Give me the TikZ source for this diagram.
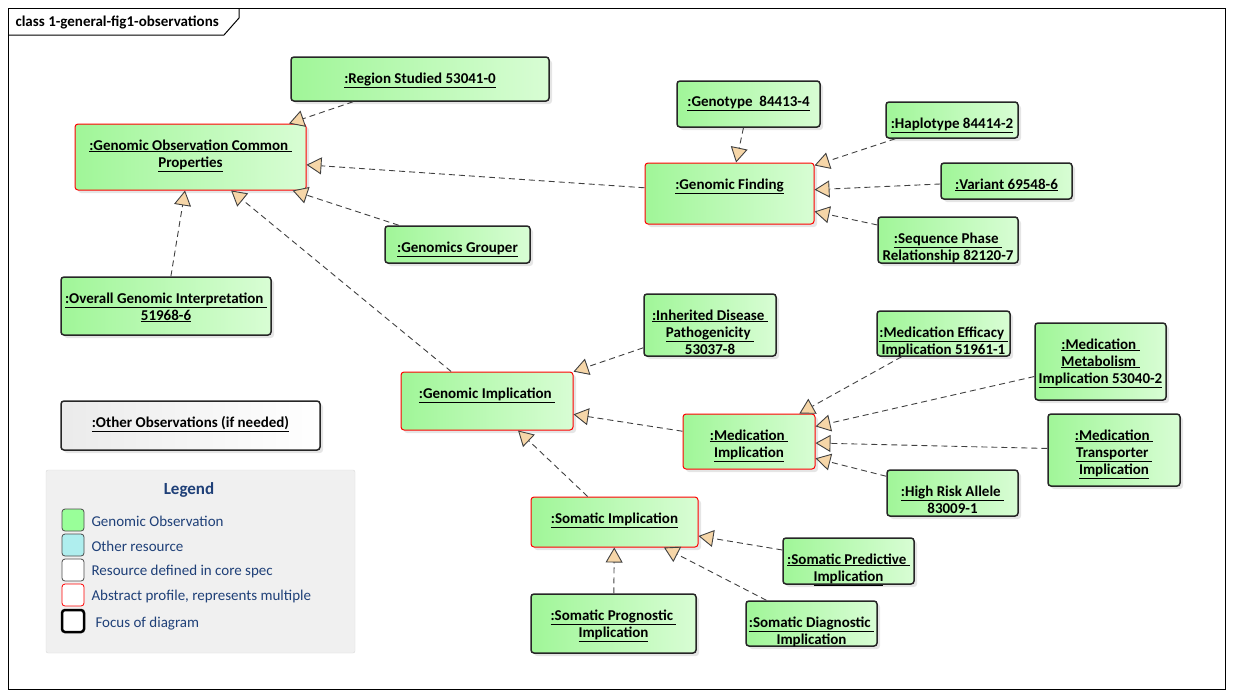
\documentclass[tikz,border=0pt]{standalone}
\usepackage{fontspec}
\setmainfont{Carlito}
\usetikzlibrary{arrows.meta, shadows}
\definecolor{obsL}{RGB}{160,246,152}
\definecolor{obsR}{RGB}{216,253,212}
\definecolor{tipc}{RGB}{246,214,168}
\definecolor{lgnd}{RGB}{31,64,120}
\definecolor{lgbg}{RGB}{240,240,240}
\definecolor{othc}{RGB}{175,238,238}
\newcommand{\bx}[3]{\parbox[t][#2][t]{#1}{\centering\vspace*{15.5pt}#3}}
\newcommand{\un}[1]{\underline{#1}}

\begin{document}
\begin{tikzpicture}[x=1pt, y=-1pt,
  obs/.style={draw=black!85, line width=1.5pt, rounded corners=3pt, left color=obsL, right color=obsR, inner sep=0pt,
    font=\bfseries\fontsize{15}{17}\selectfont, drop shadow={shadow xshift=3pt, shadow yshift=-3pt, fill=black!20}},
  abst/.style={obs, draw=red, line width=1pt},
  gen/.style={draw=black!75, line width=0.9pt, dash pattern=on 6pt off 4pt, -{Triangle[length=15pt, width=17pt, fill=tipc]}},
  lgsq/.style={draw=black!70, line width=0.8pt, rounded corners=3pt, minimum size=22pt, inner sep=0pt},
  lgtxt/.style={anchor=west, text=lgnd, font=\fontsize{15}{17}\selectfont}]
\useasboundingbox (0,0) rectangle (1233,697);

% frame
\draw[line width=1pt] (8,8) rectangle (1225,689);
\draw[line width=1pt] (8,35) -- (224,35) -- (239,18) -- (239,8);
\node[anchor=west, font=\bfseries\fontsize{15}{17}\selectfont] (title) at (12,22) {class 1-general-fig1-observations};

% observations
\node[obs] (region) at (420,79) {\bx{258pt}{44pt}{\un{:Region Studied 53041-0}}};
\node[abst] (gocp) at (190.5,157) {\bx{231pt}{66pt}{\un{:Genomic Observation Common }\\\un{Properties}}};
\node[obs] (grouper) at (457.5,244.5) {\bx{145pt}{37pt}{\un{:Genomics Grouper}}};
\node[obs] (overall) at (166,306) {\bx{210pt}{58pt}{\un{:Overall Genomic Interpretation }\\\un{51968-6}}};

\node[obs] (genotype) at (748.5,104) {\bx{143pt}{46pt}{\un{:Genotype\ \ 84413-4}}};
\node[obs] (haplotype) at (952,120) {\bx{132pt}{36pt}{\un{:Haplotype 84414-2}}};
\node[abst] (finding) at (729.5,193.5) {\bx{169pt}{61pt}{\un{:Genomic Finding}}};
\node[obs] (variant) at (1006.5,181) {\bx{131pt}{36pt}{\un{:Variant 69548-6}}};
\node[obs] (phase) at (948,240) {\bx{140pt}{46pt}{\un{:Sequence Phase }\\Relationship 82120-7}};

\node[obs] (inherited) at (710,325) {\bx{132pt}{62pt}{\un{:Inherited Disease }\\\un{Pathogenicity }\\53037-8}};
\node[abst] (genimpl) at (487,401) {\bx{172pt}{58pt}{\un{:Genomic Implication }}};
\node[obs] (efficacy) at (943.5,333.5) {\bx{133pt}{45pt}{\un{:Medication Efficacy }\\Implication 51961-1}};
\node[obs] (metabolism) at (1100.5,361.5) {\bx{131pt}{77pt}{\un{:Medication }\\\un{Metabolism }\\\un{Implication 53040-2}}};
\node[abst] (medimpl) at (749,441.5) {\bx{132pt}{55pt}{\un{:Medication }\\\un{Implication}}};
\node[obs] (transporter) at (1114,450) {\bx{132pt}{72pt}{\un{:Medication }\\\un{Transporter }\\\un{Implication}}};
\node[obs] (highrisk) at (952.5,493) {\bx{131pt}{46pt}{\un{:High Risk Allele }\\83009-1}};

\node[abst] (somimpl) at (614.5,522) {\bx{167pt}{50pt}{\un{:Somatic Implication}}};
\node[obs] (predictive) at (848.5,561) {\bx{131pt}{46pt}{\un{:Somatic Predictive }\\\un{Implication}}};
\node[obs] (prognostic) at (613.5,623.5) {\bx{165pt}{59pt}{\un{:Somatic Prognostic }\\\un{Implication}}};
\node[obs] (diagnostic) at (811.5,623.5) {\bx{131pt}{45pt}{\un{:Somatic Diagnostic }\\Implication}};

\node[obs, left color=black!8, right color=white] (other) at (190.5,425.5) {\bx{259pt}{49pt}{\un{:Other Observations (if needed)}}};

% generalisations
\draw[gen] (region) -- (gocp);
\draw[gen] (finding) -- (gocp);
\draw[gen] (grouper) -- (gocp);
\draw[gen] (overall) -- (gocp);
\draw[gen] (genimpl) -- (gocp);
\draw[gen] (genotype) -- (finding);
\draw[gen] (haplotype) -- (finding);
\draw[gen] (variant) -- (finding);
\draw[gen] (phase) -- (finding);
\draw[gen] (inherited) -- (genimpl);
\draw[gen] (medimpl) -- (genimpl);
\draw[gen] (somimpl) -- (genimpl);
\draw[gen] (efficacy) -- (medimpl);
\draw[gen] (metabolism) -- (medimpl);
\draw[gen] (transporter) -- (medimpl);
\draw[gen] (highrisk) -- (medimpl);
\draw[gen] (predictive) -- (somimpl);
\draw[gen] (diagnostic) -- (somimpl);
\draw[gen] (prognostic) -- (somimpl);

% legend
\node[draw=black!15, fill=lgbg, rounded corners=2pt, minimum width=309pt, minimum height=183pt] (legend) at (200.5,561.5) {};
\node[text=lgnd, font=\bfseries\fontsize{17}{19}\selectfont] (lgtitle) at (189,490) {Legend};
\node[lgsq, fill=green!40!white] (sq1) at (73,520) {};
\node[lgsq, fill=othc] (sq2) at (73,545) {};
\node[lgsq, fill=white] (sq3) at (73,570) {};
\node[lgsq, fill=white, draw=red] (sq4) at (73,595) {};
\node[lgsq, fill=white, draw=black, line width=2.5pt] (sq5) at (73,621) {};
\node[lgtxt] at (88,521) {Genomic Observation};
\node[lgtxt] at (88,546) {Other resource};
\node[lgtxt] at (88,571) {Resource defined in core spec};
\node[lgtxt] at (88,596) {Abstract profile, represents multiple};
\node[lgtxt] at (92,624) {Focus of diagram};
\end{tikzpicture}
\end{document}
